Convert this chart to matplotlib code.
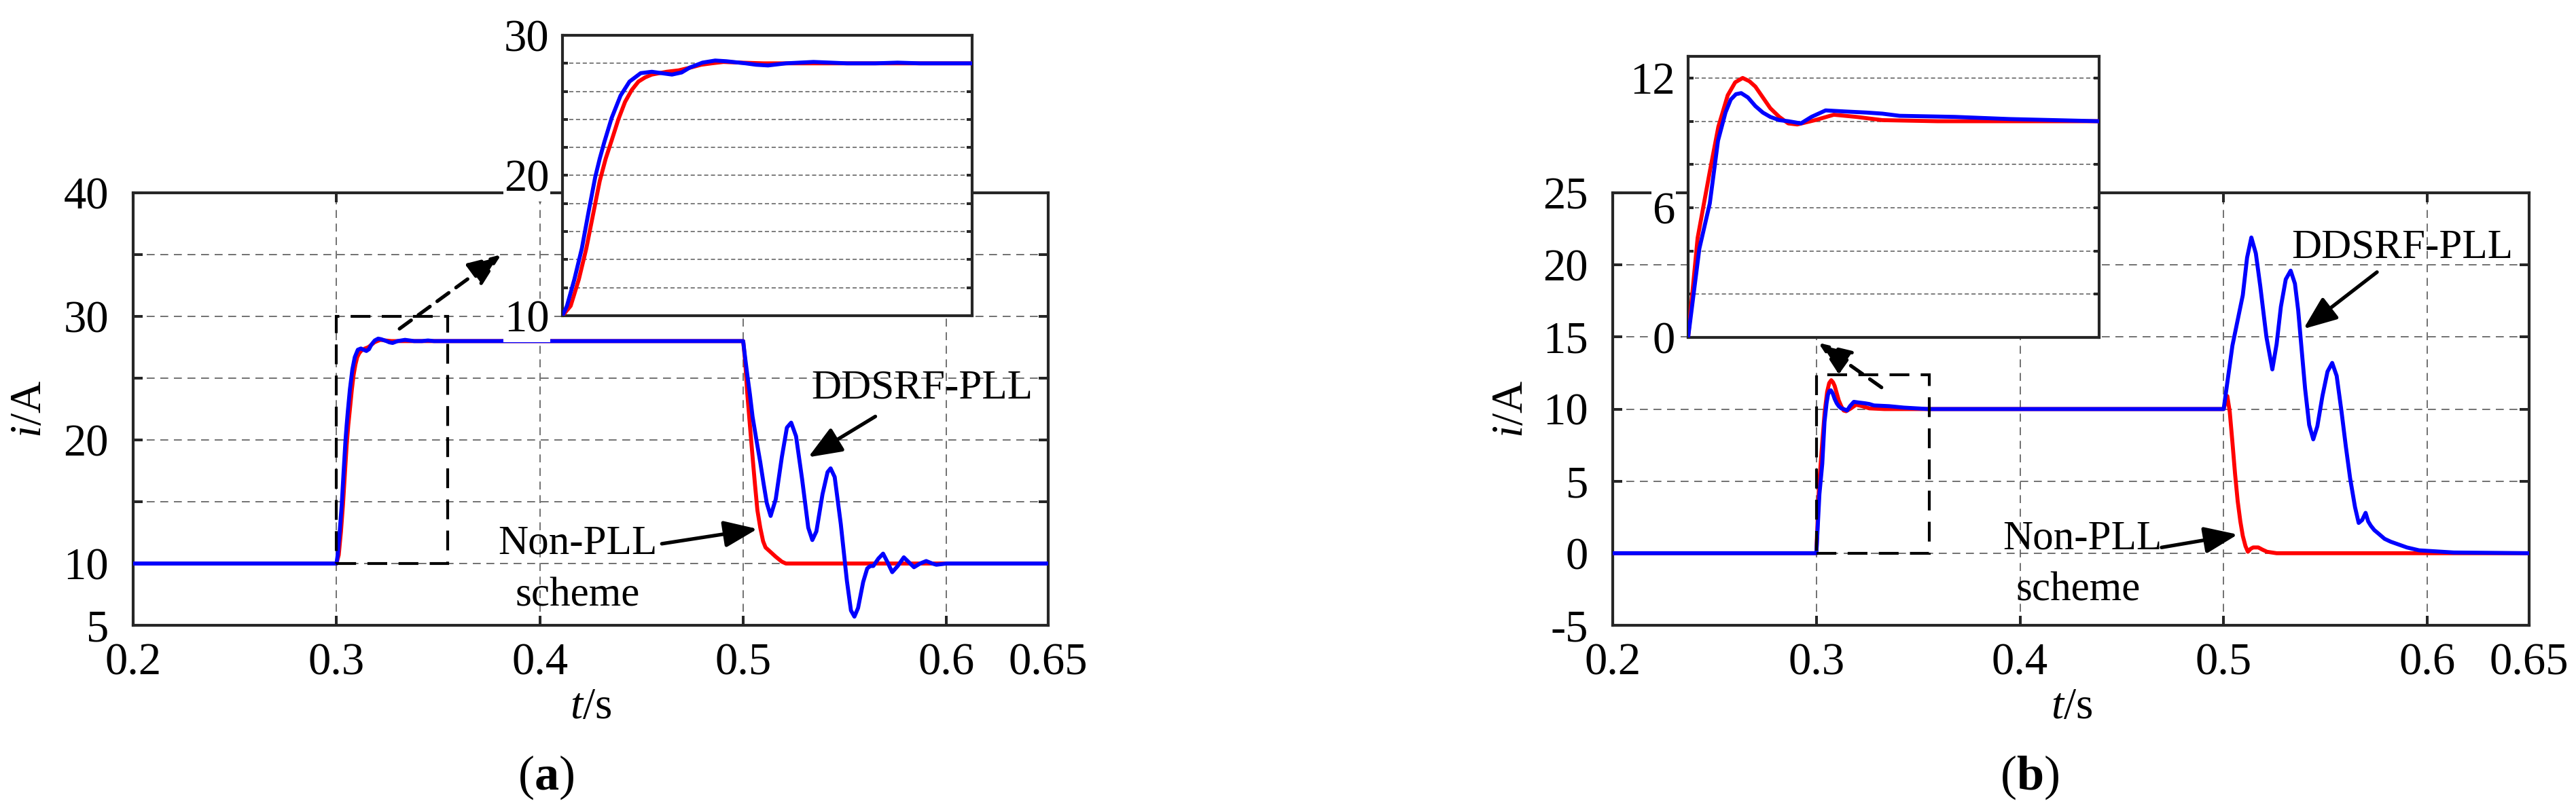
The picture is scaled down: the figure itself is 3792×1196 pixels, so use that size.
import matplotlib
matplotlib.use('Agg')
import matplotlib.pyplot as plt
from matplotlib.patches import Rectangle

plt.rcParams['font.family'] = ['Liberation Serif', 'DejaVu Serif']
plt.rcParams['mathtext.fontset'] = 'custom'
plt.rcParams['mathtext.rm'] = 'Liberation Serif'
plt.rcParams['mathtext.it'] = 'Liberation Serif:italic'
plt.rcParams['mathtext.bf'] = 'Liberation Serif:bold'

# ---- panel (a) data ----
t_a_blue = [0.2, 0.3, 0.3006, 0.3016, 0.3026, 0.3035, 0.3044, 0.3050, 0.3056, 0.3066,
            0.3078, 0.3090, 0.3105, 0.3120, 0.3133, 0.3147, 0.3160, 0.3171, 0.3188, 0.3205,
            0.3220, 0.3246, 0.3260, 0.3276, 0.3300, 0.3337, 0.3360, 0.3382, 0.3420, 0.3450,
            0.3480, 0.5000, 0.5010, 0.5020, 0.5033, 0.5046, 0.5065, 0.5084, 0.5100, 0.5116,
            0.5135, 0.5160, 0.5190, 0.5215, 0.5236, 0.5260, 0.5290, 0.5320, 0.5340, 0.5360,
            0.5390, 0.5415, 0.5430, 0.5450, 0.5480, 0.5510, 0.5530, 0.5547, 0.5565, 0.5590,
            0.5610, 0.5625, 0.5640, 0.5665, 0.5688, 0.5710, 0.5733, 0.5760, 0.5790, 0.5815,
            0.5840, 0.5870, 0.5900, 0.5930, 0.5950, 0.6000, 0.6500]
i_a_blue = [10, 10, 10.7, 12.6, 14.8, 17.4, 19.9, 21.2, 22.35, 24.1,
            25.7, 26.7, 27.3, 27.4, 27.3, 27.2, 27.35, 27.7, 28.05, 28.2,
            28.15, 28.0, 27.9, 27.85, 28.0, 28.1, 28.05, 28.0, 28.0, 28.05,
            28.0, 28.0, 26.6, 25.3, 23.7, 21.9, 20.0, 18.2, 16.5, 14.9,
            13.85, 15.2, 18.6, 21.0, 21.4, 20.3, 16.8, 12.9, 11.9, 12.6,
            15.6, 17.4, 17.7, 17.0, 13.2, 8.6, 6.2, 5.7, 6.4, 8.5,
            9.6, 9.8, 9.8, 10.4, 10.8, 10.1, 9.3, 9.8, 10.5, 10.1,
            9.7, 10.0, 10.2, 10.0, 9.9, 10.0, 10.0]

t_a_red = [0.2, 0.3, 0.3011, 0.3022, 0.3032, 0.3041, 0.3050, 0.3058, 0.3066, 0.3075,
           0.3084, 0.3093, 0.3102, 0.3111, 0.3120, 0.3140, 0.3156, 0.3172, 0.3186, 0.3200,
           0.3216, 0.3240, 0.3270, 0.5000, 0.5010, 0.5020, 0.5035, 0.5050, 0.5058, 0.5070,
           0.5084, 0.5098, 0.5110, 0.5130, 0.5160, 0.5190, 0.5210, 0.6500]
i_a_red = [10, 10, 10.7, 12.6, 14.8, 17.2, 19.6, 21.2, 22.5, 24.0,
           25.25, 26.1, 26.7, 27.0, 27.2, 27.4, 27.5, 27.7, 27.9, 28.0,
           28.1, 28.05, 28.0, 28.0, 26.3, 23.8, 20.8, 17.9, 16.4, 14.3,
           12.9, 11.8, 11.3, 11.0, 10.55, 10.15, 10.0, 10.0]

# ---- panel (b) data ----
t_b_blue = [0.2, 0.3, 0.3015, 0.3029, 0.3040, 0.3050, 0.3057, 0.3064, 0.3071, 0.3080,
            0.3090, 0.3100, 0.3110, 0.3122, 0.3134, 0.3151, 0.3165, 0.3184, 0.3210, 0.3239,
            0.3260, 0.3283, 0.3357, 0.3430, 0.3550, 0.5000, 0.5043, 0.5094, 0.5115, 0.5136,
            0.5158, 0.5180, 0.5210, 0.5239, 0.5260, 0.5281, 0.5305, 0.5329, 0.5350, 0.5366,
            0.5385, 0.5400, 0.5420, 0.5440, 0.5460, 0.5485, 0.5510, 0.5533, 0.5555, 0.5579,
            0.5600, 0.5621, 0.5645, 0.5663, 0.5680, 0.5697, 0.5710, 0.5723, 0.5740, 0.5757,
            0.5790, 0.5820, 0.5860, 0.5900, 0.5960, 0.6130, 0.6500]
i_b_blue = [0, 0, 4.1, 6.2, 9.1, 10.4, 11.0, 11.25, 11.3, 11.1,
            10.7, 10.4, 10.2, 10.05, 10.0, 9.9, 10.2, 10.5, 10.45, 10.4,
            10.35, 10.25, 10.2, 10.1, 10.0, 10.0, 14.4, 17.9, 20.5, 21.9,
            20.8, 18.5, 15.0, 12.75, 14.5, 17.1, 19.0, 19.6, 18.7, 16.85,
            13.8, 11.4, 8.9, 7.9, 8.8, 10.9, 12.6, 13.2, 12.3, 9.8,
            7.4, 5.2, 3.2, 2.1, 2.3, 2.8, 2.2, 1.9, 1.6, 1.4,
            1.0, 0.8, 0.6, 0.4, 0.2, 0.05, 0.0]

t_b_red = [0.2, 0.3, 0.30127, 0.3029, 0.30405, 0.3053, 0.3063, 0.3073, 0.3082, 0.3090,
           0.3100, 0.3110, 0.3122, 0.3134, 0.3146, 0.3170, 0.3195, 0.3225, 0.3260, 0.3334,
           0.5000, 0.5018, 0.5030, 0.5043, 0.5056, 0.5069, 0.5082, 0.5094, 0.5107, 0.5119,
           0.5132, 0.5145, 0.5170, 0.5190, 0.5213, 0.5260, 0.6500]
i_b_red = [0, 0, 4.6, 7.67, 9.75, 11.2, 11.8, 12.0, 11.85, 11.6,
           11.1, 10.6, 10.2, 9.9, 9.85, 10.05, 10.3, 10.2, 10.05, 10.0,
           10.0, 10.9, 9.8, 7.7, 5.5, 3.6, 2.2, 1.2, 0.5, 0.1,
           0.3, 0.4, 0.4, 0.25, 0.1, 0.0, 0.0]

x_ticks = [0.2, 0.3, 0.4, 0.5, 0.6, 0.65]
x_labels = ['0.2', '0.3', '0.4', '0.5', '0.6', '0.65']
y_ticks_a = [5, 10, 15, 20, 25, 30, 35, 40]
y_labels_a = ['5', '10', '', '20', '', '30', '', '40']
y_ticks_b = [-5, 0, 5, 10, 15, 20, 25]
y_labels_b = ['-5', '0', '5', '10', '15', '20', '25']
inset_ticks_a = [10, 12, 14, 16, 18, 20, 22, 24, 26, 28, 30]
inset_labels_a = ['10', '', '', '', '', '20', '', '', '', '', '30']
inset_ticks_b = [0, 2, 4, 6, 8, 10, 12]
inset_labels_b = ['0', '', '', '6', '', '', '12']

W, H = 3792, 1196
SPINE = '#262626'
GRID = '#595959'


def box(l, t, r, b):
    # pixel box -> figure fraction rect
    return [l / W, 1 - b / H, (r - l) / W, (b - t) / H]


def style_main(ax, yticks, ylabels, ylim):
    ax.set_xlim(0.2, 0.65)
    ax.set_ylim(*ylim)
    ax.set_xticks(x_ticks)
    ax.set_xticklabels(x_labels)
    ax.set_yticks(yticks)
    ax.set_yticklabels(ylabels)
    ax.grid(True, linestyle=(0, (7, 5)), color=GRID, linewidth=1.2)
    ax.set_axisbelow(True)
    for s in ax.spines.values():
        s.set_linewidth(3)
        s.set_color(SPINE)
    ax.tick_params(direction='in', length=10, width=2.9, color=SPINE,
                   top=True, right=True, labelsize=48)
    ax.tick_params(axis='x', pad=18)
    ax.tick_params(axis='y', pad=26)


def style_inset(ax, yticks, ylabels, ylim):
    ax.set_xlim(0.3, 0.355)
    ax.set_ylim(*ylim)
    ax.set_xticks([])
    ax.set_yticks(yticks)
    ax.set_yticklabels(ylabels)
    ax.grid(True, axis='y', linestyle=(0, (4, 2.5)), color=GRID, linewidth=1.1)
    ax.set_axisbelow(True)
    for s in ax.spines.values():
        s.set_linewidth(3)
        s.set_color(SPINE)
    ax.tick_params(axis='y', direction='in', length=6, width=2.9, color=SPINE,
                   right=True, labelsize=48, pad=14)
    for lab in ax.get_yticklabels():
        lab.set_bbox(dict(facecolor='white', edgecolor='none', pad=1))


def curves(ax, tb, ib, tr, ir):
    ax.plot(tr, ir, color='#ff0000', lw=4.2, zorder=3)
    ax.plot(tb, ib, color='#0000ff', lw=4.2, zorder=4)


def arrow(ax, tail, tip, dashed=False):
    ax.annotate('', xy=tip, xytext=tail,
                arrowprops=dict(arrowstyle='-|>,head_length=1.5,head_width=0.6',
                                mutation_scale=20, lw=3.8, color='black',
                                linestyle=(0, (4, 2.5)) if dashed else '-',
                                shrinkA=0, shrinkB=0), zorder=6)


fig = plt.figure(figsize=(W / 100, H / 100), dpi=100)

# ---------------- panel (a) ----------------
ax_a = fig.add_axes(box(196, 284, 1543, 921))
curves(ax_a, t_a_blue, i_a_blue, t_a_red, i_a_red)
style_main(ax_a, y_ticks_a, y_labels_a, (5, 40))
ax_a.add_patch(Rectangle((0.3, 10), 0.0546, 20, fill=False, edgecolor='black',
                         lw=3, linestyle=(0, (7, 4)), zorder=5))
arrow(ax_a, (0.331, 29.0), (0.381, 35.0), dashed=True)
ax_a.text(0.588, 24.2, 'DDSRF-PLL', ha='center', va='center', fontsize=44)
arrow(ax_a, (0.565, 21.9), (0.532, 18.6))
ax_a.text(0.4187, 11.6, 'Non-PLL', ha='center', va='center', fontsize=44)
ax_a.text(0.4184, 7.4, 'scheme', ha='center', va='center', fontsize=44)
arrow(ax_a, (0.460, 11.6), (0.507, 12.8))

ins_a = fig.add_axes(box(828, 52, 1431, 465))
ins_a.set_facecolor('white')
curves(ins_a, t_a_blue, i_a_blue, t_a_red, i_a_red)
style_inset(ins_a, inset_ticks_a, inset_labels_a, (10, 30))

fig.text(44 / W, 1 - 603 / H, r'$i$/A', rotation=90, fontsize=47, ha='center', va='center')
fig.text(870 / W, 1 - 1042 / H, r'$t$/s', fontsize=47, ha='center', va='center')
fig.text(804 / W, 1 - 1145 / H, r'($\mathbf{a}$)', fontsize=52, ha='center', va='center')

# ---------------- panel (b) ----------------
ax_b = fig.add_axes(box(2374, 284, 3723, 921))
curves(ax_b, t_b_blue, i_b_blue, t_b_red, i_b_red)
style_main(ax_b, y_ticks_b, y_labels_b, (-5, 25))
ax_b.add_patch(Rectangle((0.3, 0), 0.0555, 12.4, fill=False, edgecolor='black',
                         lw=3, linestyle=(0, (7, 4)), zorder=5))
arrow(ax_b, (0.332, 11.5), (0.301, 14.6), dashed=True)
ax_b.text(0.5876, 21.2, 'DDSRF-PLL', ha='center', va='center', fontsize=44)
arrow(ax_b, (0.5753, 19.5), (0.5392, 15.56))
ax_b.text(0.4307, 1.0, 'Non-PLL', ha='center', va='center', fontsize=44)
ax_b.text(0.4287, -2.6, 'scheme', ha='center', va='center', fontsize=44)
arrow(ax_b, (0.4695, 0.4), (0.5069, 1.3))

ins_b = fig.add_axes(box(2485, 83, 3090, 497))
ins_b.set_facecolor('white')
curves(ins_b, t_b_blue, i_b_blue, t_b_red, i_b_red)
style_inset(ins_b, inset_ticks_b, inset_labels_b, (0, 13))

fig.text(2225 / W, 1 - 603 / H, r'$i$/A', rotation=90, fontsize=47, ha='center', va='center')
fig.text(3050 / W, 1 - 1042 / H, r'$t$/s', fontsize=47, ha='center', va='center')
fig.text(2988 / W, 1 - 1145 / H, r'($\mathbf{b}$)', fontsize=52, ha='center', va='center')

fig.savefig('out.png', dpi=100, facecolor='white')
